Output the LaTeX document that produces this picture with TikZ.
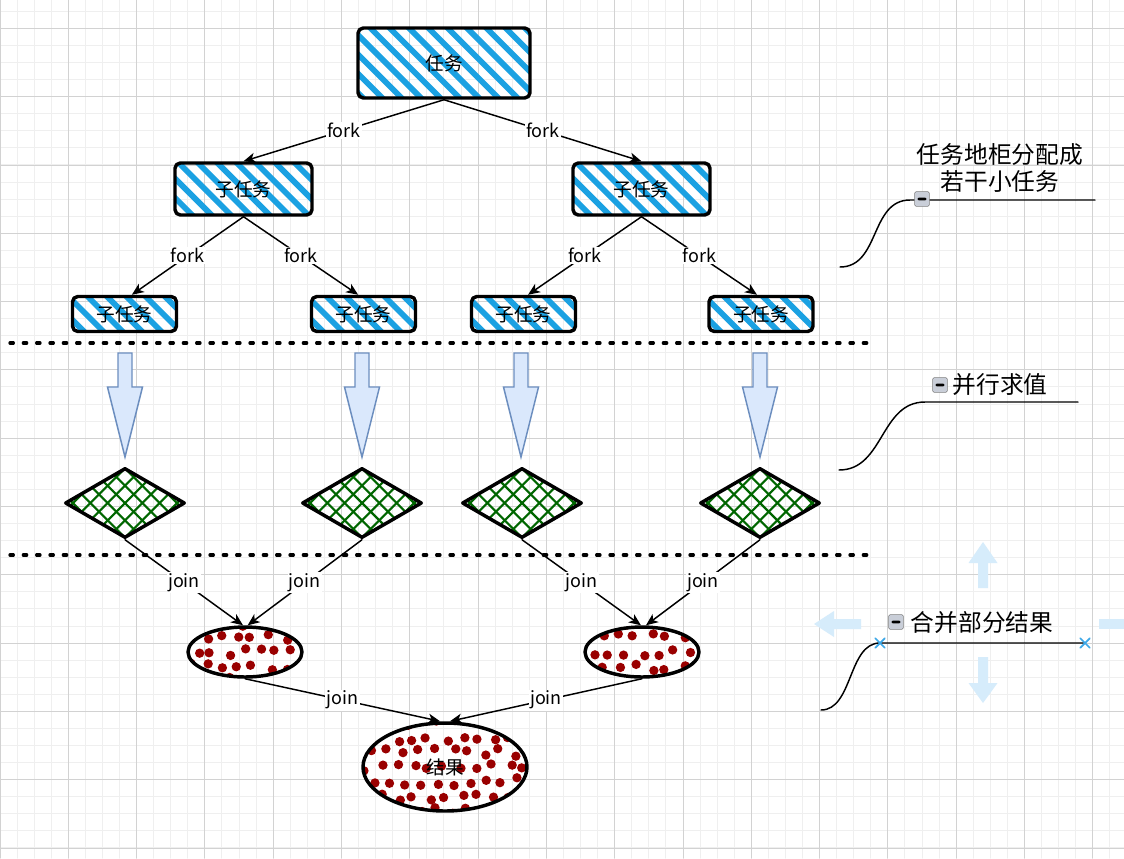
\documentclass[tikz,border=0pt]{standalone}
\usepackage{fontspec}
\setmainfont{Noto Sans CJK SC}
\usetikzlibrary{arrows.meta,shapes.geometric}
\definecolor{hatchblue}{HTML}{1BA1E2}
\definecolor{hatchgreen}{HTML}{006600}
\definecolor{dotred}{HTML}{990000}
\definecolor{arrowfill}{HTML}{DAE8FC}
\definecolor{arrowline}{HTML}{6C8EBF}
\definecolor{gridminor}{HTML}{EFEFEF}
\definecolor{gridmajor}{HTML}{D2D2D2}
\definecolor{hoverblue}{HTML}{D6ECFB}
\definecolor{markblue}{HTML}{3DA8E8}
\definecolor{foldgray}{HTML}{C9CED8}
\tikzset{
  taskbox/.style={draw, line width=2.6pt, rounded corners=4pt, inner sep=0pt,
    font=\fontsize{14pt}{16pt}\selectfont,
    path picture={\foreach \k in {-10,...,10}
      \draw[hatchblue, line width=4.3pt] ([xshift=\k*14.5pt]path picture bounding box.center) ++(-50pt,50pt) -- ++(100pt,-100pt);}},
  calcbox/.style={diamond, draw, line width=2.6pt, inner sep=0pt, minimum width=90pt, minimum height=52.5pt,
    path picture={\foreach \k in {-7,...,7} {
      \draw[hatchgreen, line width=1.6pt] ([xshift=\k*13pt]path picture bounding box.center) ++(-40pt,-40pt) -- ++(80pt,80pt);
      \draw[hatchgreen, line width=1.6pt] ([xshift=\k*13pt]path picture bounding box.center) ++(-40pt,40pt) -- ++(80pt,-80pt);}}},
  partbox/.style={ellipse, draw, line width=2.6pt, inner sep=0pt, font=\fontsize{14pt}{16pt}\selectfont,
    path picture={\pgfmathsetseed{#1}
      \foreach \i in {-6,...,6} \foreach \j in {-4,...,4} {
        \pgfmathsetmacro\dx{\i*12+6*mod(\j,2)+rand*3}
        \pgfmathsetmacro\dy{\j*11+rand*3}
        \fill[dotred] ([shift={(\dx pt,\dy pt)}]path picture bounding box.center) circle (3.5pt);}}},
  link/.style={draw, line width=1.1pt, -{Stealth[length=9pt,width=7.5pt,inset=2.5pt]}},
  tag/.style={fill=white, inner sep=1pt, font=\fontsize{13.5pt}{15pt}\selectfont},
  sep/.style={line width=2.5pt, dash pattern=on 2.5pt off 7.5pt},
  blockarrow/.style={fill=arrowfill, draw=arrowline, line width=1.1pt, line join=miter},
  fold/.style={draw=gray, fill=foldgray, rounded corners=1pt, minimum size=11pt, inner sep=0pt,
    path picture={\fill[black] ([shift={(-3.5pt,-1pt)}]path picture bounding box.center) rectangle ++(7pt,2pt);}},
  note/.style={font=\fontsize{17.8pt}{20.5pt}\selectfont, align=center, inner sep=0pt},
  bracket/.style={line width=1.1pt},
  hover/.style={fill=hoverblue}
}
\begin{document}
\begin{tikzpicture}[x=0.75pt, y=-0.75pt, line join=round, line cap=round]
\useasboundingbox (0,0) rectangle (1124,858);
% background grid
\fill[white] (0,0) rectangle (1124,858);
\foreach \i in {0,...,66} \draw[gridminor, line width=0.75pt] (\i*17.075,0) -- (\i*17.075,858);
\foreach \j in {0,...,50} \draw[gridminor, line width=0.75pt] (0,11.3+\j*17.075) -- (1124,11.3+\j*17.075);
\foreach \i in {0,...,16} \draw[gridmajor, line width=0.75pt] (\i*68.3,0) -- (\i*68.3,858);
\foreach \j in {0,...,12} \draw[gridmajor, line width=0.75pt] (0,28.4+\j*68.3) -- (1124,28.4+\j*68.3);

% split into subtasks
\node[taskbox, minimum width=129pt, minimum height=52.5pt] (task) at (444,63) {任务};
\node[taskbox, minimum width=102.75pt, minimum height=39pt] (sub1) at (243.5,189) {子任务};
\node[taskbox, minimum width=102.75pt, minimum height=39pt] (sub2) at (641.5,189) {子任务};
\foreach \name/\x in {leaf1/124.5, leaf2/363.5, leaf3/523.5, leaf4/761}
  \node[taskbox, minimum width=78pt, minimum height=26.25pt] (\name) at (\x,314) {子任务};

\draw[link] (task.south) -- node[tag]{fork} (sub1.north);
\draw[link] (task.south) -- node[tag]{fork} (sub2.north);
\draw[link] (sub1.south) -- node[tag]{fork} ([xshift=5.5pt]leaf1.north);
\draw[link] (sub1.south) -- node[tag]{fork} ([xshift=-4pt]leaf2.north);
\draw[link] (sub2.south) -- node[tag]{fork} ([xshift=3.4pt]leaf3.north);
\draw[link] (sub2.south) -- node[tag]{fork} ([xshift=-3pt]leaf4.north);

\draw[sep] (10,343) -- (872,343);
\draw[sep] (10,555) -- (872,555);

% evaluate in parallel
\foreach \ax in {125,362,521,760}
  \draw[blockarrow] (\ax-7,353) -- (\ax+7,353) -- (\ax+7,387) -- (\ax+17.5,387) -- (\ax,457)
    -- (\ax-17.5,387) -- (\ax-7,387) -- cycle;
\foreach \name/\x in {calc1/125, calc2/362, calc3/522, calc4/760}
  \node[calcbox] (\name) at (\x,503) {};

% join the partial results
\node[partbox=3, minimum width=85.5pt, minimum height=37.5pt] (part1) at (245,652) {};
\node[partbox=11, minimum width=85.5pt, minimum height=37.5pt] (part2) at (642,652) {};
\node[partbox=5, minimum width=123pt, minimum height=66pt] (result) at (445,767) {结果};

\draw[link] (calc1.south) -- node[tag]{join} ([xshift=-1.5pt]part1.north);
\draw[link] (calc2.south) -- node[tag]{join} ([xshift=2pt]part1.north);
\draw[link] (calc3.south) -- node[tag]{join} ([xshift=-0.8pt]part2.north);
\draw[link] (calc4.south) -- node[tag]{join} ([xshift=3pt]part2.north);
\draw[link] (part1.south) -- node[tag]{join} ([xshift=-3.7pt]result.north);
\draw[link] (part2.south) -- node[tag]{join} ([xshift=3.7pt]result.north);

% notes on the right
\coordinate (n1a) at (840,267); \coordinate (n1b) at (910,200); \coordinate (n1c) at (1095,200);
\coordinate (n2a) at (839,470); \coordinate (n2b) at (925,402); \coordinate (n2c) at (1078,402);
\coordinate (n3a) at (821,710); \coordinate (n3b) at (880,643); \coordinate (n3c) at (1085,643);
\draw[bracket] (n1a) .. controls +(40,0) and +(-40,0) .. (n1b) -- (n1c);
\draw[bracket] (n2a) .. controls +(45,0) and +(-45,0) .. (n2b) -- (n2c);
\draw[bracket] (n3a) .. controls +(32,0) and +(-32,0) .. (n3b) -- (n3c);
\node[fold] (fold1) at (922,199) {};
\node[fold] (fold2) at (940,385) {};
\node[fold] (fold3) at (896,622) {};
\node[note] (note1) at (1000,168) {任务地柜分配成\\若干小任务};
\node[note] (note2) at (1000,385) {并行求值};
\node[note] (note3) at (982,623) {合并部分结果};
\foreach \p in {n3b,n3c}
  \draw[markblue, line width=1.3pt] ([shift={(-3.5pt,-3.5pt)}]\p) -- ([shift={(3.5pt,3.5pt)}]\p)
    ([shift={(-3.5pt,3.5pt)}]\p) -- ([shift={(3.5pt,-3.5pt)}]\p);

% hover arrows
\fill[hover] (983,542) -- (997.5,563) -- (988,563) -- (988,588) -- (978,588) -- (978,563) -- (968.5,563) -- cycle;
\fill[hover] (983,703) -- (997.5,683) -- (988,683) -- (988,657) -- (978,657) -- (978,683) -- (968.5,683) -- cycle;
\fill[hover] (814,624) -- (834,611) -- (834,619) -- (861,619) -- (861,629) -- (834,629) -- (834,637) -- cycle;
\fill[hover] (1099,619) rectangle (1124,629);
\end{tikzpicture}
\end{document}
